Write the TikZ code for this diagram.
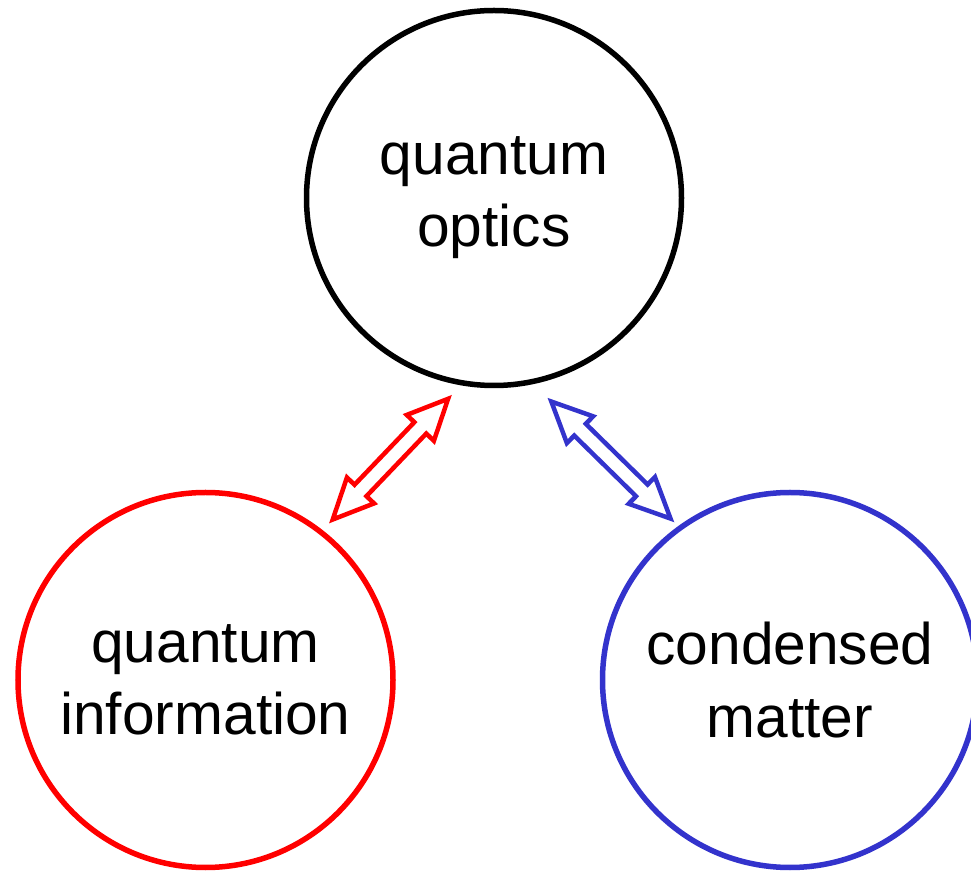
\documentclass[tikz,border=0pt]{standalone}
\usepackage{fontspec}
\setmainfont{Liberation Sans}
\usepackage{tikz}
\usetikzlibrary{shapes.arrows}
\definecolor{cmblue}{RGB}{51,51,204}
\tikzset{
    field/.style={circle, draw, line width=0.11cm, minimum size=7.5cm, inner sep=0pt,
        text=black, align=center, font=\fontsize{33.4}{41}\selectfont},
    link/.style={double arrow, draw, line width=0.09cm, minimum height=3.34cm,
        inner sep=0.12cm, double arrow head extend=0.21cm, double arrow tip angle=50, sloped},
}
\begin{document}
\begin{tikzpicture}[
                scale=1, % 调整比例
            ]
            \useasboundingbox (0,0) rectangle (19.42,17.4);
            % 三个圆
            \node[field] (qo) at (9.88,13.44) {quantum\\optics};
            \node[field, draw=red] (qi) at (4.11,3.8) {quantum\\information};
            \node[field, draw=cmblue] (cm) at (15.8,3.8) {condensed\\matter};

            % 双向箭头
            \path (qi.52.7) -- (qo.260.9) node[link, draw=red, pos=0.49] (qiqo) {};
            \path (cm.126.4) -- (qo.282.1) node[link, draw=cmblue, pos=0.465] (cmqo) {};
            \end{tikzpicture}
\end{document}
